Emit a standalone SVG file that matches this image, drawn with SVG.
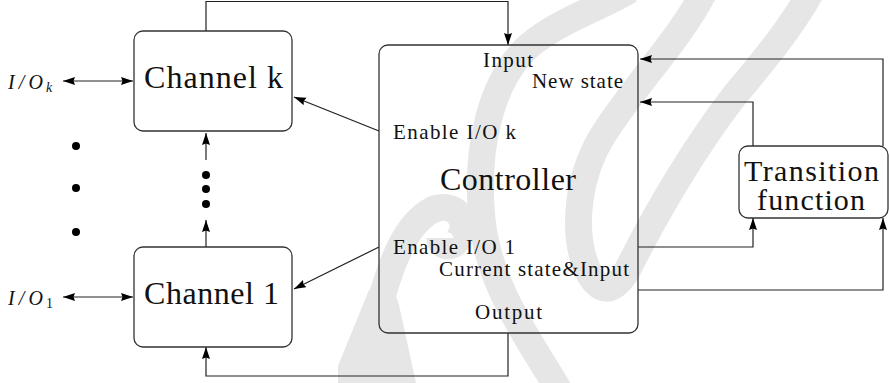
<svg xmlns="http://www.w3.org/2000/svg" width="889" height="383" viewBox="0 0 889 383">
  <style>
    .box { fill: none; stroke: #333; stroke-width: 1.3; }
    .wire { fill: none; stroke: #222; stroke-width: 1.2; }
    .arr { marker-end: url(#head); }
    text { fill: #111; }
    .big { font-size: 32px; }
    .mid { font-size: 30px; }
    .small { font-size: 21px; }
    .math { font-style: italic; font-size: 20px; }
    .sub { font-size: 14px; }
    .mark { fill: none; stroke: #e6e6e6; stroke-width: 27; }
    .markfill { fill: #e6e6e6; }
    .dot { fill: #000; }
  </style>
  <defs>
    <marker id="head" markerUnits="userSpaceOnUse" markerWidth="13" markerHeight="9" refX="12" refY="4" orient="auto-start-reverse">
      <path d="M0,0 L12,4 L0,8 L1.5,4 z" fill="#000"/>
    </marker>
  </defs>

  <!-- light background emblem -->
  <g id="emblem">
    <path class="markfill" d="M338 383 L338 366 L369 290 L394 290 L399 305 L416 383 Z"/>
    <path class="mark" stroke-width="24" d="M381 300 C392 262 405 225 432 210 C455 200 472 222 458 240 C450 250 440 246 440 238"/>
    <path class="mark" d="M560 392 C530 340 490 290 482 220 C475 150 490 80 530 45 C560 20 600 8 630 -10"/>
    <path class="mark" d="M705 -10 C680 40 630 90 600 140 C575 185 572 240 590 275 C605 300 620 285 630 265 C660 205 700 140 735 95 C760 65 790 30 812 -10"/>
  </g>

  <!-- connectors -->
  <g id="connectors">
    <path class="wire arr" d="M206,31 V1.5 H508 V45"/>
    <path class="wire arr" d="M508,333 V376 H206 V347"/>
    <path class="wire arr" d="M883,146 V59 H640"/>
    <path class="wire arr" d="M753,146 V102 H640"/>
    <path class="wire arr" d="M638,247 H753 V218"/>
    <path class="wire arr" d="M638,290 H883 V218"/>
    <path class="wire arr" d="M379,131 L294,97"/>
    <path class="wire arr" d="M379,247 L294,289"/>
    <path class="wire arr" d="M63,81 H133" marker-start="url(#head)"/>
    <path class="wire arr" d="M63,297 H133" marker-start="url(#head)"/>
    <path class="wire arr" d="M206,247 V220"/>
    <path class="wire arr" d="M206,160 V133"/>
  </g>

  <!-- ellipsis dots -->
  <g id="dots">
    <circle class="dot" cx="76" cy="146" r="4"/>
    <circle class="dot" cx="76" cy="188" r="4"/>
    <circle class="dot" cx="76" cy="232" r="4"/>
    <circle class="dot" cx="206" cy="175" r="4"/>
    <circle class="dot" cx="206" cy="189" r="4"/>
    <circle class="dot" cx="206" cy="204" r="4"/>
  </g>

  <g id="labels" font-family="'Liberation Serif', 'DejaVu Serif', serif">
    <g id="io-k">
      <text class="math" x="8" y="89" textLength="35" lengthAdjust="spacing">I/O</text>
      <text class="sub" x="46" y="92" font-style="italic">k</text>
    </g>
    <g id="io-1">
      <text class="math" x="8" y="305" textLength="35" lengthAdjust="spacing">I/O</text>
      <text class="sub" x="46" y="308">1</text>
    </g>

    <g id="channel-k">
      <rect class="box" x="134" y="31" width="158" height="100" rx="9"/>
      <text class="big" x="144" y="88" textLength="139" lengthAdjust="spacing">Channel k</text>
    </g>

    <g id="channel-1">
      <rect class="box" x="134" y="247" width="158" height="100" rx="9"/>
      <text class="big" x="144" y="304" textLength="135" lengthAdjust="spacing">Channel 1</text>
    </g>

    <g id="controller">
      <rect class="box" x="379" y="45" width="259" height="288" rx="9"/>
      <text class="small" x="483" y="67" textLength="50" lengthAdjust="spacing">Input</text>
      <text class="small" x="532" y="88" textLength="91" lengthAdjust="spacing">New state</text>
      <text class="small" x="393" y="139" textLength="123" lengthAdjust="spacing">Enable I/O k</text>
      <text class="big" x="440" y="190" textLength="136" lengthAdjust="spacing">Controller</text>
      <text class="small" x="393" y="254" textLength="122" lengthAdjust="spacing">Enable I/O 1</text>
      <text class="small" x="439" y="276" textLength="190" lengthAdjust="spacing">Current state&amp;Input</text>
      <text class="small" x="475" y="319" textLength="67" lengthAdjust="spacing">Output</text>
    </g>

    <g id="transition">
      <rect class="box" x="739" y="146" width="149" height="72" rx="9"/>
      <text class="mid" x="744" y="181" textLength="135" lengthAdjust="spacing">Transition</text>
      <text class="mid" x="757" y="210" textLength="108" lengthAdjust="spacing">function</text>
    </g>
  </g>
</svg>
